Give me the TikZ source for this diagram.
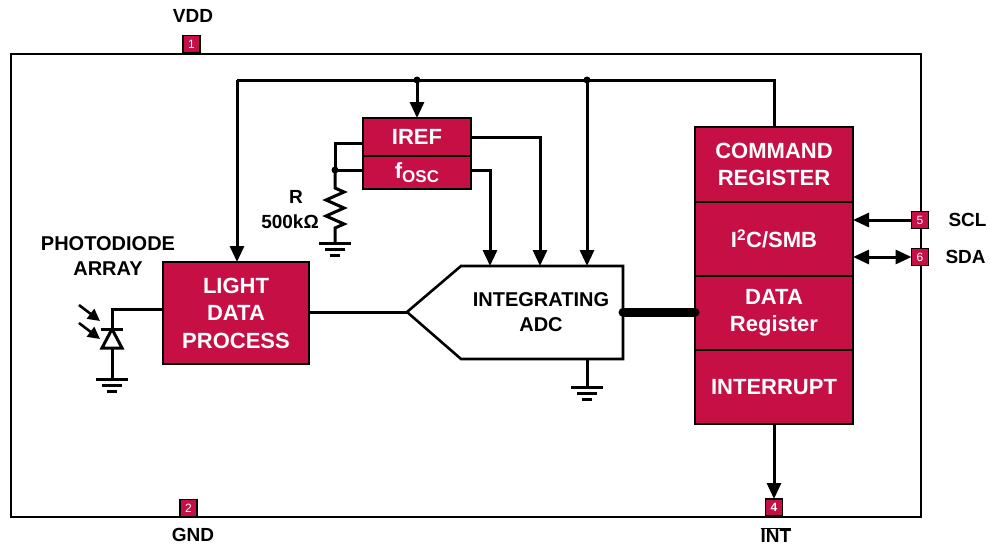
\documentclass[tikz,border=0pt]{standalone}
\usepackage{fontspec}
\setmainfont{Liberation Sans}
\usetikzlibrary{arrows.meta,calc}
\definecolor{crim}{HTML}{C50F45}
\begin{document}
\begin{tikzpicture}[x=1pt,y=-1pt,
  blk/.style={draw=black,line width=2pt,fill=crim,text=white,outer sep=0pt,
    font=\bfseries\fontsize{22}{27.5}\selectfont,align=center,inner sep=0pt,anchor=north west},
  pin/.style={draw=black,line width=1.5pt,fill=crim,text=white,minimum size=17pt,outer sep=0pt,
    inner sep=0pt,font=\fontsize{12}{12}\selectfont},
  wire/.style={line width=3pt},
  arr/.style={wire,-{Triangle[length=16pt,width=14pt]}},
  lbl/.style={font=\bfseries\fontsize{19}{25}\selectfont,align=center},
  gnd/.pic={\draw[line width=3pt] (-16,0) -- (16,0) (-10,6.5) -- (10,6.5) (-5,12.5) -- (5,12.5);}]
\useasboundingbox (0,0) rectangle (990,546);
\draw[line width=1.6pt] (11,54) rectangle (921,517);

% right stack
\node[blk,minimum width=158pt,minimum height=75pt] (cmd) at (695,127) {COMMAND\\REGISTER};
\node[blk,minimum width=158pt,minimum height=74pt] (i2c) at (695,202) {I\textsuperscript{2}C/SMB};
\node[blk,minimum width=158pt,minimum height=74pt] (data) at (695,276) {DATA\\Register};
\node[blk,minimum width=158pt,minimum height=74pt] (intr) at (695,350) {INTERRUPT};

% IREF / fosc
\node[blk,minimum width=108pt,minimum height=38pt] (iref) at (363,118) {IREF};
\node[blk,minimum width=108pt,minimum height=33pt] (fosc) at (363,156) {f\raisebox{-4pt}{\fontsize{17}{17}\selectfont OSC}};

% light data process
\node[blk,minimum width=146pt,minimum height=102pt] (ldp) at (163,262) {LIGHT\\DATA\\PROCESS};

% ADC
\coordinate (adcL) at (407,312);
\coordinate (adcTL) at (461,266);
\coordinate (adcTR) at (623,266);
\coordinate (adcBR) at (623,359);
\coordinate (adcBL) at (461,359);
\coordinate (adcR) at (623,312);
\draw[line width=2.6pt,line join=miter] (adcL) -- (adcTL) -- (adcTR) -- (adcBR) -- (adcBL) -- cycle;
\node[font=\bfseries\fontsize{20}{25}\selectfont,align=center] (adct) at (541,312) {INTEGRATING\\ADC};

% pins
\node[pin] (p1) at (191.5,44) {1};
\node[pin] (p2) at (188.5,508) {2};
\node[pin] (p4) at (774,507.5) {\bfseries 4};
\node[pin] (p5) at (920,220) {5};
\node[pin] (p6) at (920,257) {6};

% labels
\node[lbl] (vdd) at (193,16) {VDD};
\node[lbl] (gndl) at (193,535) {GND};
\node[lbl] (intl) at (776,535) {$\overline{\mbox{INT}}$};
\node[lbl,anchor=west] (scl) at (945,220) {SCL};
\node[lbl,anchor=west] (sda) at (942,257) {SDA};
\node[lbl,font=\bfseries\fontsize{20}{25}\selectfont] (pda) at (108,256) {PHOTODIODE\\ARRAY};
\node[lbl] (rl) at (296,197) {R};
\node[lbl] (rv) at (290,222) {500kΩ};

% top bus
\coordinate (b1) at (237,80);
\coordinate (b2) at (417,80);
\coordinate (b3) at (587,80);
\coordinate (b4) at (774,80);
\draw[wire] (b1) -- (b4) -- (cmd.north);
\draw[arr] (b1) -- (ldp.north -| b1);
\draw[arr] (b2) -- (iref.north -| b2);
\draw[arr] (b3) -- (adcTL -| b3);
\fill (b2) circle (3.5pt);
\fill (b3) circle (3.5pt);

% IREF / fosc outputs
\coordinate (a1) at (490,266);
\coordinate (a2) at (540,266);
\draw[arr] (iref.east) -| (a2);
\draw[arr] (fosc.east |- 0,170) -| (a1);

% resistor
\coordinate (r1) at (335,143);
\coordinate (rj) at (335,170);
\coordinate (rg) at (335,243);
\draw[wire] (iref.west |- r1) -- (r1) -- (rj) -- (fosc.west |- rj);
\fill (rj) circle (3.5pt);
\draw[wire,line join=miter] (rj) -- (335,188) -- (344,192) -- (326,200) -- (344,208) -- (326,216) -- (344,224) -- (335,228) -- (rg);
\pic at (rg) {gnd};

% photodiode
\coordinate (d0) at (112,309);
\coordinate (dk) at (112,329);
\coordinate (da) at (112,348);
\coordinate (dg) at (112,379);
\draw[wire] (ldp.west |- d0) -- (d0) -- (dk);
\draw[wire] (101,329) -- (123,329);
\draw[wire,fill=white,line join=miter] (dk) -- (122,348) -- (102,348) -- cycle;
\draw[wire] (da) -- (dg);
\pic at (dg) {gnd};
\draw[line width=2.6pt,-{Triangle[length=12pt,width=12pt]}] (79,305) -- (100,321);
\draw[line width=2.6pt,-{Triangle[length=12pt,width=12pt]}] (79,323) -- (100,339);

% signal path
\draw[wire] (ldp.east |- adcL) -- (adcL);
\draw[line width=9pt,line cap=round] (adcR) -- (data.west |- adcR);

% ADC ground
\coordinate (ag) at (587,387);
\draw[wire] (adcBL -| ag) -- (ag);
\pic at (ag) {gnd};

% serial pins
\draw[arr] (p5.west) -- (i2c.east |- p5);
\draw[wire,{Triangle[length=16pt,width=14pt]}-{Triangle[length=16pt,width=14pt]}] (i2c.east |- p6) -- (p6.west);

% interrupt
\draw[arr] (intr.south) -- (p4.north);
\end{tikzpicture}
\end{document}
